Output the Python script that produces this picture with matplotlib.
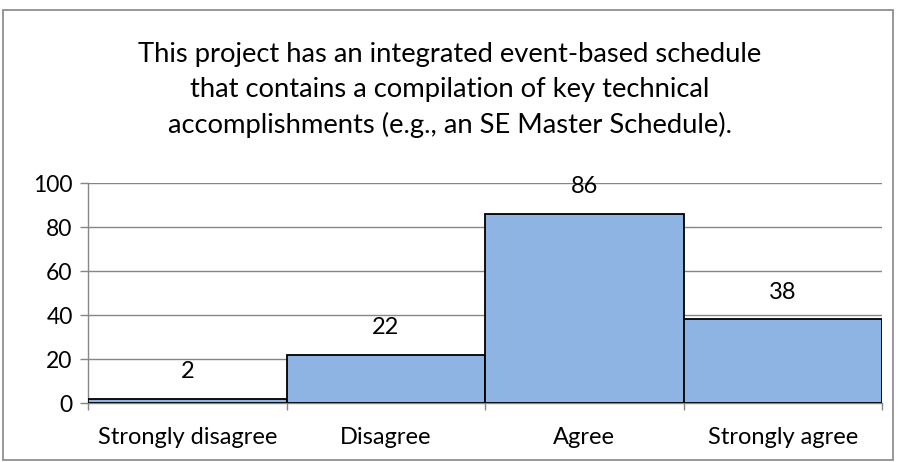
import matplotlib
matplotlib.use("Agg")
import matplotlib.pyplot as plt
from matplotlib.patches import Rectangle

categories = ["Strongly disagree", "Disagree", "Agree", "Strongly agree"]
counts = [2, 22, 86, 38]
title = ("This project has an integrated event-based schedule\n"
         "that contains a compilation of key technical\n"
         "accomplishments (e.g., an SE Master Schedule).")

plt.rcParams['font.family'] = ['Lato', 'DejaVu Sans']

fig = plt.figure(figsize=(9, 4.62), dpi=100)
# outer chart frame
fig.patches.append(Rectangle((3 / 900, 2 / 462), 890 / 900, 450 / 462,
                             transform=fig.transFigure, fill=False,
                             edgecolor="#868686", linewidth=1.2))

ax = fig.add_axes([88 / 900, 59 / 462, 794 / 900, 220 / 462])
x = list(range(len(categories)))
ax.bar(x, counts, width=1.0, color="#8EB4E3", edgecolor="black", linewidth=1.3, zorder=3)

for xi, v in zip(x, counts):
    ax.annotate(str(v), (xi, v), xytext=(0, 19.4), textcoords="offset points",
                ha="center", va="center", fontsize=17)

ax.set_xlim(-0.5, len(categories) - 0.5)
ax.set_ylim(0, 100)
ax.set_yticks(range(0, 101, 20))
ax.set_xticks(x)
ax.set_xticklabels(categories)
ax.set_xticks([i - 0.5 for i in range(len(categories) + 1)], minor=True)
ax.tick_params(axis="x", which="major", length=0, pad=17, labelsize=17)
ax.tick_params(axis="x", which="minor", length=5, color="#868686", width=1)
ax.tick_params(axis="y", length=6, color="#868686", width=1, labelsize=16.5, pad=5)
ax.grid(axis="y", color="#868686", linewidth=1, zorder=0)

for s in ["top", "right"]:
    ax.spines[s].set_visible(False)
for s in ["left", "bottom"]:
    ax.spines[s].set_color("#868686")
    ax.spines[s].set_linewidth(1)

fig.text(0.5, 1 - 90 / 462, title, ha="center", va="center", fontsize=19.7, linespacing=1.46)

fig.savefig("out.png", dpi=100)
